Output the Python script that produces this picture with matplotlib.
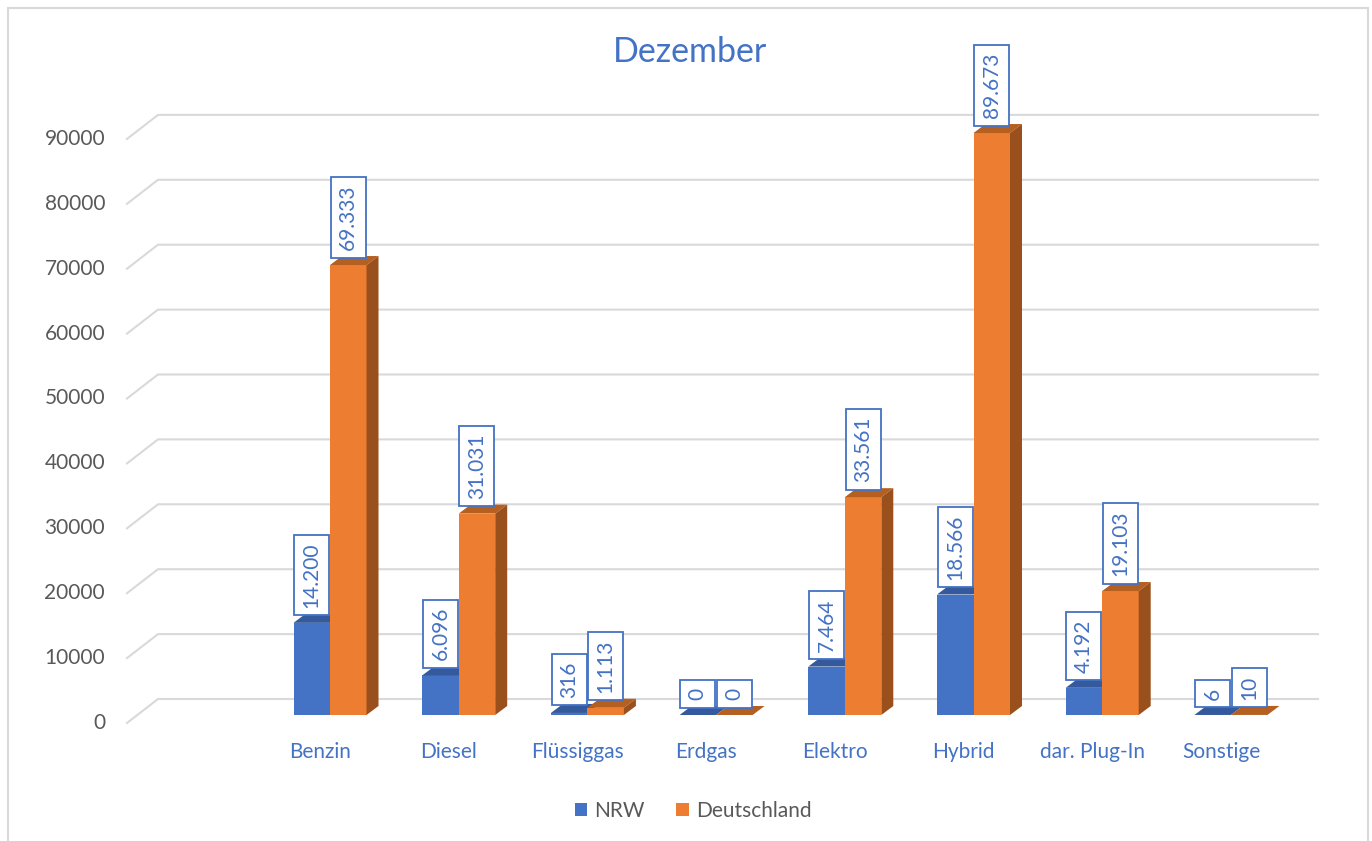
import matplotlib
matplotlib.use("Agg")
import matplotlib.pyplot as plt
from matplotlib.patches import Polygon, Rectangle, Patch
from matplotlib.lines import Line2D

plt.rcParams['font.family'] = ['Lato', 'DejaVu Sans']

# ---- data ----
categories = ["Benzin", "Diesel", "Flüssiggas", "Erdgas", "Elektro", "Hybrid", "dar. Plug-In", "Sonstige"]
nrw = [14200, 6096, 316, 0, 7464, 18566, 4192, 6]
deutschland = [69333, 31031, 1113, 0, 33561, 89673, 19103, 10]
series_names = ["NRW", "Deutschland"]
y_ticks = [0, 10000, 20000, 30000, 40000, 50000, 60000, 70000, 80000, 90000]
title = "Dezember"

def fmt(v):
    return f"{v:,}".replace(",", ".")

# ---- layout (pixels) ----
W, H = 1372, 841
X0, XS = 330.0, 128.7      # px of first category centre, px per category
Y0, YS = 715.0, 0.00649    # px of value 0 on bar plane, px per unit

fig = plt.figure(figsize=(W / 100, H / 100), dpi=100)
ax = fig.add_axes([0, 0, 1, 1])
ax.set_xlim((0 - X0) / XS, (W - X0) / XS)
ax.set_ylim((Y0 - H) / YS, Y0 / YS)
ax.axis('off')

def dxp(p):  # pixels -> category units
    return p / XS

def dyp(p):  # pixels (up) -> value units
    return p / YS

BLUE, ORANGE = '#4472C4', '#ED7D31'
BLUE_TOP, ORANGE_TOP = '#34599C', '#B55F20'
ORANGE_SIDE = '#9A501D'
GRID = '#D9D9D9'
TXT = '#595959'
FS = 15

# back wall gridlines with perspective
x_front_left = (127 - X0) / XS
x_back_left = (158 - X0) / XS
x_back_right = (1318 - X0) / XS
for t in y_ticks:
    yf = t - dyp(8)
    yb = t + dyp(16)
    ax.add_line(Line2D([x_front_left, x_back_left, x_back_right], [yf, yb, yb],
                       color=GRID, lw=1.5, zorder=1, solid_joinstyle='round'))
    ax.text((105 - X0) / XS, yf, str(t), ha='right', va='center',
            fontsize=FS, color=TXT, zorder=2)

# bars
bw = 36.5 / XS
ddx, ddy = dxp(12), dyp(9)
xs = list(range(len(categories)))
ax.bar([x - bw for x in xs], nrw, width=bw, align='edge', color=BLUE, zorder=3, linewidth=0)
ax.bar(xs, deutschland, width=bw, align='edge', color=ORANGE, zorder=5, linewidth=0)

for i, (a, b) in enumerate(zip(nrw, deutschland)):
    # blue top
    x0, x1 = i - bw, i
    ax.add_patch(Polygon([[x0, a], [x1, a], [x1 + ddx, a + ddy], [x0 + ddx, a + ddy]],
                         closed=True, facecolor=BLUE_TOP, edgecolor='none', zorder=4))
    # orange top and side
    x0, x1 = i, i + bw
    ax.add_patch(Polygon([[x0, b], [x1, b], [x1 + ddx, b + ddy], [x0 + ddx, b + ddy]],
                         closed=True, facecolor=ORANGE_TOP, edgecolor='none', zorder=6))
    if b > 0:
        ax.add_patch(Polygon([[x1, 0], [x1 + ddx, ddy], [x1 + ddx, b + ddy], [x1, b]],
                             closed=True, facecolor=ORANGE_SIDE, edgecolor='none', zorder=6))

# value labels
for i, (a, b) in enumerate(zip(nrw, deutschland)):
    for val, cx in ((a, i - bw / 2), (b, i + bw / 2)):
        ax.annotate(fmt(val), xy=(cx, val), xytext=(0, 15), textcoords='offset pixels',
                    ha='center', va='bottom', rotation=90, fontsize=FS, color=BLUE,
                    zorder=8,
                    bbox=dict(boxstyle='square,pad=0.36', facecolor='white',
                              edgecolor=BLUE, linewidth=1.3))

# category labels
for i, c in enumerate(categories):
    ax.text(i - dxp(10), (Y0 - 752) / YS, c, ha='center', va='center',
            fontsize=FS, color=BLUE)

# title
fig.text(690 / W, 1 - 52 / H, title, ha='center', va='center', fontsize=24.5, color=BLUE)

# legend
handles = [Patch(facecolor=BLUE, edgecolor='none'), Patch(facecolor=ORANGE, edgecolor='none')]
leg = fig.legend(handles, series_names, loc='center', bbox_to_anchor=(693 / W, 1 - 811 / H),
                 ncol=2, frameon=False, fontsize=FS, handlelength=0.6, handleheight=0.6,
                 handletextpad=0.35, columnspacing=1.5)
for t in leg.get_texts():
    t.set_color(TXT)

# chart border
fig.patches.append(Rectangle((8 / W, -0.01), (1368 - 8) / W, 1 - 8 / H + 0.01,
                             transform=fig.transFigure, fill=False, edgecolor=GRID,
                             linewidth=1.5))

fig.savefig('out.png', dpi=100)
